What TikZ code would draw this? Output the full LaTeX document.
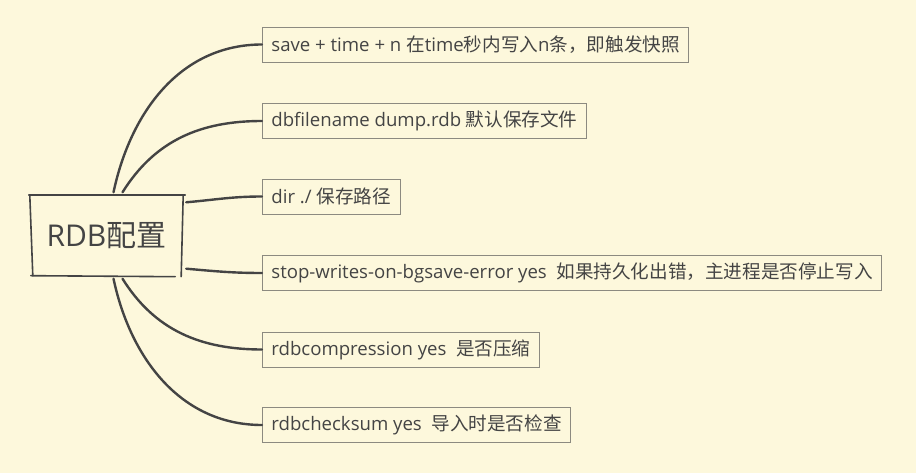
\documentclass[tikz,border=0pt]{standalone}
\usepackage{fontspec}
\setmainfont{Open Sans}
\newfontfamily\cjk{Noto Sans CJK SC}
\usetikzlibrary{positioning}
\definecolor{paper}{HTML}{FDF8DC}
\definecolor{ink}{HTML}{444444}
\definecolor{rim}{HTML}{8C8A80}

\begin{document}
\begin{tikzpicture}[x=1pt, y=-1pt,
    branch/.style = {ink, line width=2.4pt, line cap=round},
    leaf/.style = {draw=rim, line width=0.8pt, anchor=west, minimum height=35pt,
                   inner xsep=9pt, text=ink, font=\fontsize{18.6}{21}\selectfont},
    rootbox/.style = {minimum width=153pt, minimum height=80pt, text=ink,
                      font=\fontsize{30}{34}\selectfont},
    sketch/.style = {ink, line width=1.6pt, line cap=round}]
    \fill[paper] (0,0) rectangle (916,473);
    \useasboundingbox (0,0) rectangle (916,473);
    % root node, with a hand drawn frame
    \node[rootbox] (rdb) at (106.5,235.5) {RDB{\cjk 配置}};
    \draw[sketch, shorten <=-1pt, shorten >=-2pt] (rdb.north west) -- (rdb.north east);
    \draw[sketch, shorten >=-1pt] (rdb.north east) -- ([xshift=-2pt]rdb.south east);
    \draw[sketch, shorten <=-1pt] ([xshift=2pt]rdb.south west) -- ([xshift=-8pt,yshift=-1pt]rdb.south east);
    \draw[sketch] (rdb.north west) -- ([xshift=3pt]rdb.south west);
    % leaves
    \node[leaf] (save) at (262,44.5) {save + time + n {\cjk 在}time{\cjk 秒内写入}n{\cjk 条，即触发快照}};
    \node[leaf] (dbfile) at (262,121) {dbfilename dump.rdb {\cjk 默认保存文件}};
    \node[leaf] (dir) at (262,196.5) {dir ./ {\cjk 保存路径}};
    \node[leaf] (stop) at (262,273) {stop-writes-on-bgsave-error yes~~{\cjk 如果持久化出错，主进程是否停止写入}};
    \node[leaf] (compr) at (262,349.5) {rdbcompression yes~~{\cjk 是否压缩}};
    \node[leaf] (check) at (262,425) {rdbchecksum yes~~{\cjk 导入时是否检查}};
    % branches
    \draw[branch] ([xshift=7pt,yshift=3pt]rdb.north) to[out=78, in=180] (save.west);
    \draw[branch] ([xshift=16pt,yshift=3pt]rdb.north) to[out=58, in=180] (dbfile.west);
    \draw[branch] ([xshift=3pt,yshift=-7pt]rdb.north east) to[out=5, in=180] (dir.west);
    \draw[branch] ([xshift=3pt,yshift=7pt]rdb.south east) to[out=-5, in=180] (stop.west);
    \draw[branch] ([xshift=16pt,yshift=-3pt]rdb.south) to[out=-58, in=180] (compr.west);
    \draw[branch] ([xshift=7pt,yshift=-3pt]rdb.south) to[out=-78, in=180] (check.west);
\end{tikzpicture}
\end{document}
